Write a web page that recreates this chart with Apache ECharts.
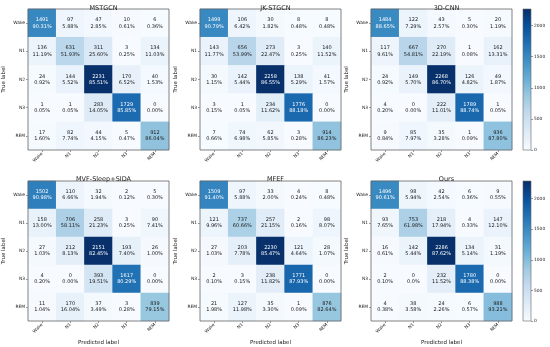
<!DOCTYPE html>
<html><head><meta charset="utf-8">
<script src="https://cdn.jsdelivr.net/npm/echarts@6/dist/echarts.min.js"></script>
<style>html,body{margin:0;padding:0;background:#fff}#c{width:550px;height:347px}</style>
</head><body><div id="c"></div>
<script>
const stages = ['Wake','N1','N2','N3','REM'];
const titles = ['MSTGCN','JK-STGCN','3D-CNN','MVF-Sleep+SIDA','MFEF','Ours'];
const colorbarTicks = [0,500,1000,1500,2000];

const mstgcnCounts = [[1491,97,47,10,6],[136,631,311,3,134],[24,144,2231,170,40],[1,1,283,1729,0],[17,82,44,5,912]];
const mstgcnPercents = [['90.31%','5.88%','2.85%','0.61%','0.36%'],['11.19%','51.93%','25.60%','0.25%','11.03%'],['0.92%','5.52%','85.51%','6.52%','1.53%'],['0.05%','0.05%','14.05%','85.85%','0.00%'],['1.60%','7.74%','4.15%','0.47%','86.04%']];

const jkCounts = [[1499,106,30,8,8],[143,656,273,3,140],[30,142,2258,138,41],[3,1,234,1776,0],[7,74,62,3,914]];
const jkPercents = [['90.79%','6.42%','1.82%','0.48%','0.48%'],['11.77%','53.99%','22.47%','0.25%','11.52%'],['1.15%','5.44%','86.55%','5.29%','1.57%'],['0.15%','0.05%','11.62%','88.18%','0.00%'],['0.66%','6.98%','5.85%','0.28%','86.23%']];

const cnnCounts = [[1484,122,43,5,20],[117,667,270,1,162],[24,149,2268,126,49],[4,0,222,1789,1],[9,85,35,1,936]];
const cnnPercents = [['88.65%','7.29%','2.57%','0.30%','1.19%'],['9.61%','54.81%','22.19%','0.08%','13.31%'],['0.92%','5.70%','86.70%','4.82%','1.87%'],['0.20%','0.00%','11.01%','88.74%','0.05%'],['0.84%','7.97%','3.28%','0.09%','87.80%']];

const mvfCounts = [[1502,110,32,2,5],[158,706,258,3,90],[27,212,2151,193,26],[4,0,393,1617,0],[11,170,37,3,839]];
const mvfPercents = [['90.98%','6.66%','1.94%','0.12%','0.30%'],['13.00%','58.11%','21.23%','0.25%','7.41%'],['1.03%','8.13%','82.45%','7.40%','1.00%'],['0.20%','0.00%','19.51%','80.29%','0.00%'],['1.04%','16.04%','3.49%','0.28%','79.15%']];

const mfefCounts = [[1509,97,33,4,8],[121,737,257,2,98],[27,203,2230,121,28],[2,3,238,1771,0],[21,127,35,1,876]];
const mfefPercents = [['91.40%','5.88%','2.00%','0.24%','0.48%'],['9.96%','60.66%','21.15%','0.16%','8.07%'],['1.03%','7.78%','85.47%','4.64%','1.07%'],['0.10%','0.15%','11.82%','87.93%','0.00%'],['1.98%','11.98%','3.30%','0.09%','82.64%']];

const oursCounts = [[1496,98,42,6,9],[93,753,218,4,147],[16,142,2286,134,31],[2,0,232,1780,0],[4,38,24,6,988]];
const oursPercents = [['90.61%','5.94%','2.54%','0.36%','0.55%'],['7.65%','61.98%','17.94%','0.33%','12.10%'],['0.61%','5.44%','87.62%','5.14%','1.19%'],['0.10%','0.0%','11.52%','88.38%','0.00%'],['0.38%','3.58%','2.26%','0.57%','93.21%']];

const allCounts = [mstgcnCounts, jkCounts, cnnCounts, mvfCounts, mfefCounts, oursCounts];
const allPercents = [mstgcnPercents, jkPercents, cnnPercents, mvfPercents, mfefPercents, oursPercents];

const blues = ['#f7fbff','#deebf7','#c6dbef','#9ecae1','#6baed6','#4292c6','#2171b5','#08519c','#08306b'];
const FONT = 'DejaVu Sans';
const colLeft = [28, 200, 371];
const rowTop = [9, 181];
const rowH = [141, 140];
const boxW = 141;

const option = {
  backgroundColor: '#fff',
  animation: false,
  title: [], grid: [], xAxis: [], yAxis: [], visualMap: [], series: []
};

for (let i = 0; i < 6; i++) {
  const r = Math.floor(i / 3), c = i % 3;
  const counts = allCounts[i], pcts = allPercents[i];
  let mx = 0;
  counts.forEach(row => row.forEach(v => { if (v > mx) mx = v; }));
  const data = [];
  for (let t = 0; t < 5; t++) for (let p = 0; p < 5; p++) {
    const v = counts[t][p];
    data.push({ value: [p, t, v, pcts[t][p]], label: { color: v > mx / 2 ? '#ffffff' : '#1a1a1a' } });
  }
  option.title.push({
    text: titles[i], left: colLeft[c] + boxW / 2, top: r === 0 ? 0 : 171, textAlign: 'center',
    textStyle: { fontFamily: FONT, fontSize: 6.5, fontWeight: 'normal', color: '#222' }
  });
  option.grid.push({ left: colLeft[c], top: rowTop[r], width: boxW, height: rowH[r], show: true,
    borderColor: '#666', borderWidth: 0.8, backgroundColor: 'transparent', z: 5 });
  option.xAxis.push({
    type: 'category', gridIndex: i, data: stages,
    name: r === 1 ? 'Predicted label' : '', nameLocation: 'middle', nameGap: 19,
    nameTextStyle: { fontFamily: FONT, fontSize: 5.5, color: '#222' },
    axisLine: { show: false }, splitLine: { show: false },
    axisTick: { show: true, alignWithLabel: true, length: 2, lineStyle: { color: '#555', width: 0.6 } },
    axisLabel: { fontFamily: FONT, fontSize: 4.4, color: '#222', rotate: 45, margin: 3, interval: 0 }
  });
  option.yAxis.push({
    type: 'category', gridIndex: i, data: stages, inverse: true,
    name: 'True label', nameLocation: 'middle', nameGap: 21, nameRotate: 90,
    nameTextStyle: { fontFamily: FONT, fontSize: 5.5, color: '#222' },
    axisLine: { show: false }, splitLine: { show: false },
    axisTick: { show: true, alignWithLabel: true, length: 2, lineStyle: { color: '#555', width: 0.6 } },
    axisLabel: { fontFamily: FONT, fontSize: 4.4, color: '#222', margin: 3, interval: 0 }
  });
  option.visualMap.push({ type: 'continuous', show: false, seriesIndex: i, dimension: 2, min: 0, max: mx,
    inRange: { color: blues } });
  option.series.push({
    type: 'heatmap', xAxisIndex: i, yAxisIndex: i, data: data,
    itemStyle: { borderWidth: 0 },
    label: { show: true, fontFamily: FONT, fontSize: 5, lineHeight: 6.3,
      formatter: p => p.value[2] + '\n' + p.value[3] },
    emphasis: { disabled: true }
  });
}

// colorbars for the right column
[2, 5].forEach((idx, k) => {
  const counts = allCounts[idx];
  let mx = 0;
  counts.forEach(row => row.forEach(v => { if (v > mx) mx = v; }));
  const gi = option.grid.length;
  option.grid.push({ left: 523, top: rowTop[k], width: 8, height: rowH[k], show: true,
    borderColor: '#666', borderWidth: 0.6, backgroundColor: 'transparent', z: 5 });
  option.xAxis.push({ type: 'category', gridIndex: gi, data: ['c'], show: false });
  option.yAxis.push({ type: 'value', gridIndex: gi, min: 0, max: mx, position: 'right',
    axisLine: { show: false }, splitLine: { show: false },
    axisTick: { show: true, length: 2, customValues: colorbarTicks, lineStyle: { color: '#555', width: 0.6 } },
    axisLabel: { fontFamily: FONT, fontSize: 4.4, color: '#222', margin: 3, customValues: colorbarTicks,
      formatter: v => String(v) }
  });
  option.series.push({
    type: 'bar', xAxisIndex: gi, yAxisIndex: gi, data: [mx], barWidth: '100%', silent: true,
    itemStyle: { color: new echarts.graphic.LinearGradient(0, 1, 0, 0,
      blues.map((col, j) => ({ offset: j / (blues.length - 1), color: col }))) }
  });
});

const chart = echarts.init(document.getElementById('c'), null, { renderer: 'canvas' });
chart.setOption(option);
</script></body></html>
